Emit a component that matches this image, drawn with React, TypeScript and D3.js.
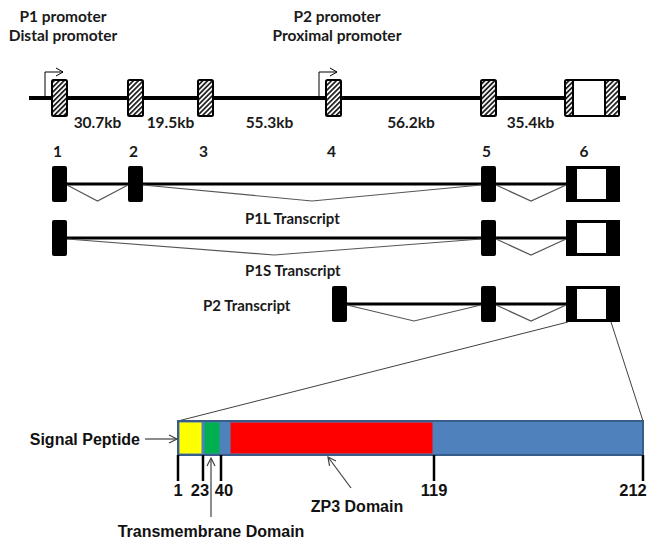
import React from 'react';
import * as d3 from 'd3';

// gene structure
const exonIds = [1, 2, 3, 4, 5, 6];
const intronLabels = ['30.7kb', '19.5kb', '55.3kb', '56.2kb', '35.4kb'];
const promoterNames = ['P1 promoter', 'P2 promoter'];
const promoterAlias = ['Distal promoter', 'Proximal promoter'];
const promoterExon = [1, 4];

// transcripts
const transcriptNames = ['P1L Transcript', 'P1S Transcript', 'P2 Transcript'];
const transcriptExons = [[1, 2, 5, 6], [1, 5, 6], [4, 5, 6]];

// protein
const residueTicks = [1, 23, 40, 119, 212];
const domainNames = ['Signal Peptide', 'Transmembrane Domain', 'ZP3 Domain'];
const domainStart = [1, 23, 43];
const domainEnd = [23, 40, 119];
const domainColors = ['#FFFF00', '#00B050', '#FF0000'];

const FONT_C = 'Lato, "Open Sans", sans-serif';
const FONT_A = '"Liberation Sans", Arial, sans-serif';

const App = () => {
  const width = 648;
  const height = 541;

  // exon positions (schematic, not to scale)
  const geneX = d3.scaleOrdinal<number, number>().domain(exonIds).range([52, 128, 198, 326, 481, 565]);
  const txX = d3.scaleOrdinal<number, number>().domain(exonIds).range([52, 128, 198, 332, 481, 566]);
  const exonW = (id: number) => (id === 6 ? 54 : 15);
  const rowY = d3.scaleOrdinal<string, number>().domain(transcriptNames).range([184, 238, 304]);
  const geneY = 98;
  const exonH = 36;

  // protein scale (piecewise, schematic)
  const px = d3.scaleLinear().domain(residueTicks).range([178, 203, 221, 434, 643]);
  const barTop = 421;
  const barH = 34;

  const arrowLine = '#404040';

  const exon6 = (x: number, y: number, hatched: boolean) => {
    const w = exonW(6);
    if (hatched) {
      return (
        <g>
          <rect x={x} y={y - exonH / 2} width={w} height={exonH} fill="url(#hatch)" stroke="#000" strokeWidth={2} rx={1.5} />
          <rect x={x + 8} y={y - exonH / 2} width={32} height={exonH} fill="#fff" stroke="#000" strokeWidth={2} />
        </g>
      );
    }
    return (
      <g>
        <rect x={x} y={y - exonH / 2} width={w} height={exonH} fill="#000" />
        <rect x={x + 11} y={y - exonH / 2 + 3} width={29} height={exonH - 6} fill="#fff" />
      </g>
    );
  };

  return (
    <svg width={width} height={height} style={{ position: 'absolute', left: 0, top: 0, background: '#fff' }}>
      <defs>
        <pattern id="hatch" patternUnits="userSpaceOnUse" width={3.5} height={3.5} patternTransform="rotate(45)">
          <rect width={3.5} height={3.5} fill="#fff" />
          <rect width={1.8} height={3.5} fill="#222" />
        </pattern>
        <marker id="open" markerUnits="userSpaceOnUse" markerWidth={12} markerHeight={12} refX={9} refY={5} orient="auto">
          <path d="M1,1 L9,5 L1,9" fill="none" stroke={arrowLine} strokeWidth={1.2} />
        </marker>
        <marker id="prom" markerUnits="userSpaceOnUse" markerWidth={12} markerHeight={12} refX={9} refY={5} orient="auto">
          <path d="M2,1 L9,5 L2,9" fill="none" stroke="#000" strokeWidth={1} />
        </marker>
      </defs>

      {/* promoter labels */}
      {promoterNames.map((n, i) => {
        const cx = i === 0 ? 63 : 337;
        return (
          <g key={n} fontFamily={FONT_C} fontWeight="bold" fontSize={15.5} fill="#1a1a1a" textAnchor="middle">
            <text x={cx} y={22}>{n}</text>
            <text x={cx} y={41}>{promoterAlias[i]}</text>
          </g>
        );
      })}

      {/* promoter arrows */}
      {promoterExon.map((e) => {
        const x0 = geneX(e) - 7;
        return (
          <path key={e} d={`M${x0},${geneY} V72 H${x0 + 18}`} fill="none" stroke="#000" strokeWidth={1} markerEnd="url(#prom)" />
        );
      })}

      {/* genomic line */}
      <line x1={29} x2={626} y1={geneY} y2={geneY} stroke="#000" strokeWidth={4} />
      {exonIds.map((id) =>
        id === 6 ? (
          <g key={id}>{exon6(geneX(id), geneY, true)}</g>
        ) : (
          <rect key={id} x={geneX(id)} y={geneY - exonH / 2} width={exonW(id)} height={exonH} fill="url(#hatch)" stroke="#000" strokeWidth={2} rx={1.5} />
        )
      )}
      {intronLabels.map((l, i) => {
        const a = geneX(exonIds[i]) + exonW(exonIds[i]);
        const b = geneX(exonIds[i + 1]);
        return (
          <text key={l} x={(a + b) / 2} y={128} textAnchor="middle" fontFamily={FONT_C} fontWeight="bold" fontSize={15.5} fill="#1a1a1a">
            {l}
          </text>
        );
      })}

      {/* exon numbers */}
      {exonIds.map((id) => (
        <text key={id} x={geneX(id) + Math.min(exonW(id) / 2, 21) - 2} y={157} textAnchor="middle" fontFamily={FONT_C} fontWeight="bold" fontSize={15.5} fill="#1a1a1a">
          {id}
        </text>
      ))}

      {/* transcripts */}
      {transcriptNames.map((name, ti) => {
        const ex = transcriptExons[ti];
        const y = rowY(name);
        const first = txX(ex[0]) + exonW(ex[0]);
        const last = txX(ex[ex.length - 1]);
        return (
          <g key={name}>
            <line x1={first} x2={last} y1={y} y2={y} stroke="#000" strokeWidth={3} />
            {ex.slice(1).map((b, k) => {
              const a = ex[k];
              const xa = txX(a) + exonW(a);
              const xb = txX(b);
              return (
                <polyline key={b} points={`${xa},${y + 1} ${(xa + xb) / 2},${y + 17} ${xb},${y + 1}`} fill="none" stroke="#555" strokeWidth={1.2} />
              );
            })}
            {ex.map((id) =>
              id === 6 ? (
                <g key={id}>{exon6(txX(id), y, false)}</g>
              ) : (
                <rect key={id} x={txX(id)} y={y - exonH / 2} width={exonW(id)} height={exonH} fill="#000" rx={2} />
              )
            )}
          </g>
        );
      })}
      <g fontFamily={FONT_C} fontWeight="bold" fontSize={15} fill="#1a1a1a">
        <text x={245} y={224}>{transcriptNames[0]}</text>
        <text x={245} y={276}>{transcriptNames[1]}</text>
        <text x={203} y={311}>{transcriptNames[2]}</text>
      </g>

      {/* zoom lines to protein */}
      <line x1={txX(6) + 2} y1={rowY(transcriptNames[2]) + exonH / 2} x2={px(1)} y2={barTop} stroke={arrowLine} strokeWidth={1} />
      <line x1={txX(6) + 45} y1={rowY(transcriptNames[2]) + exonH / 2} x2={px(212)} y2={barTop} stroke={arrowLine} strokeWidth={1} />

      {/* protein bar */}
      <rect x={px(1)} y={barTop} width={px(212) - px(1)} height={barH} fill="#4F81BD" stroke="#385D8A" strokeWidth={2} />
      {domainNames.map((n, i) => (
        <rect key={n} x={px(domainStart[i]) + 1.5} y={barTop + 1.5} width={px(domainEnd[i]) - px(domainStart[i]) - 3} height={barH - 3} fill={domainColors[i]} />
      ))}

      {/* residue ticks */}
      {residueTicks.map((t, i) => {
        const x = px(t);
        const dx = [0, -3, 3, 0, -10][i];
        return (
          <g key={t}>
            <line x1={x} x2={x} y1={barTop + barH} y2={481} stroke="#000" strokeWidth={2.5} />
            <text x={x + dx} y={496} textAnchor="middle" fontFamily={FONT_A} fontWeight="bold" fontSize={16.5} fill="#111">
              {t}
            </text>
          </g>
        );
      })}

      {/* domain labels */}
      <g fontFamily={FONT_A} fontWeight="bold" fontSize={16} fill="#111">
        <text x={140} y={445} textAnchor="end">{domainNames[0]}</text>
        <text x={211} y={537} textAnchor="middle">{domainNames[1]}</text>
        <text x={357} y={512} textAnchor="middle">{domainNames[2]}</text>
      </g>
      <line x1={145} y1={439} x2={px(1) - 1} y2={439} stroke={arrowLine} strokeWidth={1.2} markerEnd="url(#open)" />
      <line x1={211} y1={517} x2={211} y2={458} stroke={arrowLine} strokeWidth={1.2} markerEnd="url(#open)" />
      <line x1={351} y1={488} x2={328} y2={457} stroke={arrowLine} strokeWidth={1.2} markerEnd="url(#open)" />
    </svg>
  );
};

export default App;
